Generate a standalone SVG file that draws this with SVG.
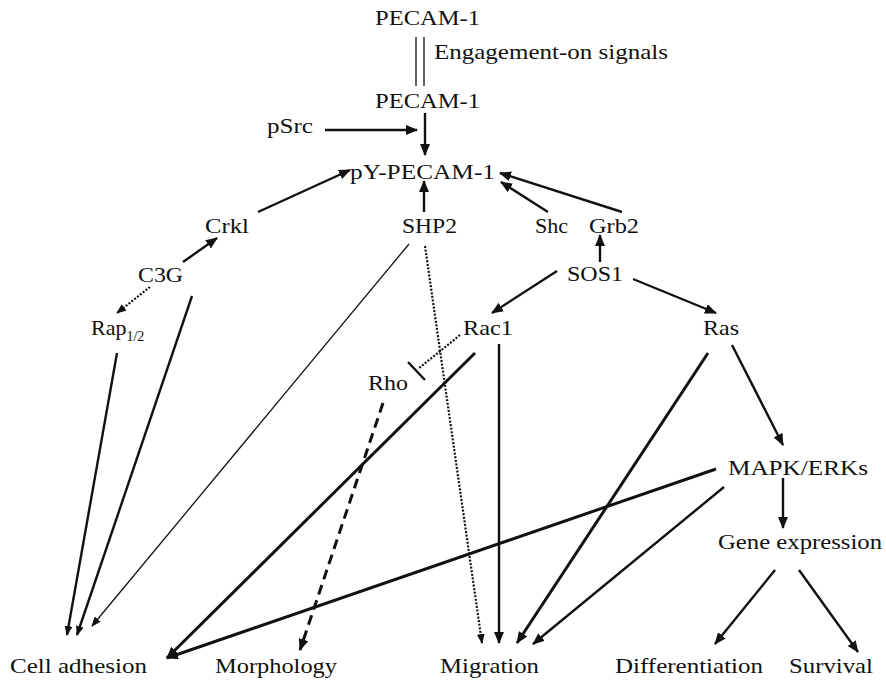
<svg xmlns="http://www.w3.org/2000/svg" width="886" height="683" viewBox="0 0 886 683">
<style>
text{font-family:"Liberation Serif","Times New Roman",serif;font-size:22px;fill:#111}
.c{fill:none;stroke:#111;stroke-width:2.4}
.thick{stroke-width:3}
.thin{stroke-width:1.3}
.dot{stroke-dasharray:2 1.6;stroke-width:2.2}
.dash{stroke-dasharray:10 6;stroke-width:3}
</style>
<defs>
<marker id="a" markerUnits="userSpaceOnUse" markerWidth="12" markerHeight="10" refX="11" refY="5" orient="auto">
<path d="M0,0 L12,5 L0,10 Z" fill="#111"/>
</marker>
<marker id="as" markerUnits="userSpaceOnUse" markerWidth="10" markerHeight="8" refX="9" refY="4" orient="auto">
<path d="M0,0 L10,4 L0,8 Z" fill="#111"/>
</marker>
</defs>
<rect width="886" height="683" fill="#fff"/>
<g id="connectors">
<line class="c thin" x1="416" y1="37" x2="416" y2="86"/>
<line class="c thin" x1="424" y1="37" x2="424" y2="86"/>
<line class="c" x1="325" y1="130" x2="417" y2="130" marker-end="url(#a)"/>
<line class="c" x1="425" y1="113" x2="425" y2="155" marker-end="url(#a)"/>
<line class="c" x1="258" y1="212" x2="350" y2="170" marker-end="url(#a)"/>
<line class="c" x1="424" y1="212" x2="424" y2="181" marker-end="url(#a)"/>
<line class="c" x1="548" y1="212" x2="501" y2="182" marker-end="url(#a)"/>
<line class="c" x1="622" y1="212" x2="500" y2="173" marker-end="url(#a)"/>
<line class="c" x1="183" y1="262" x2="217" y2="238" marker-end="url(#a)"/>
<line class="c dot" x1="150" y1="287" x2="117" y2="313" marker-end="url(#as)"/>
<line class="c" x1="117" y1="353" x2="67" y2="635" marker-end="url(#as)"/>
<line class="c" x1="192" y1="296" x2="77" y2="635" marker-end="url(#as)"/>
<line class="c thin" x1="409" y1="244" x2="92" y2="626" marker-end="url(#as)"/>
<line class="c dot" x1="425" y1="246" x2="482" y2="643" marker-end="url(#as)"/>
<line class="c" x1="600" y1="262" x2="600" y2="235" marker-end="url(#a)"/>
<line class="c" x1="557" y1="271" x2="492" y2="313" marker-end="url(#a)"/>
<line class="c" x1="633" y1="279" x2="716" y2="313" marker-end="url(#a)"/>
<line class="c dot" x1="460" y1="335" x2="418" y2="369"/>
<line class="c" x1="408" y1="362" x2="425" y2="380"/>
<line class="c dash" x1="383" y1="403" x2="300" y2="650" marker-end="url(#a)"/>
<line class="c thick" x1="475" y1="353" x2="167" y2="658" marker-end="url(#a)"/>
<line class="c" x1="499" y1="344" x2="499" y2="643" marker-end="url(#a)"/>
<line class="c thick" x1="708" y1="353" x2="517" y2="643" marker-end="url(#a)"/>
<line class="c" x1="732" y1="345" x2="783" y2="445" marker-end="url(#a)"/>
<line class="c thick" x1="716" y1="469" x2="167" y2="658" marker-end="url(#a)"/>
<line class="c" x1="724" y1="487" x2="533" y2="644" marker-end="url(#a)"/>
<line class="c" x1="783" y1="478" x2="783" y2="528" marker-end="url(#a)"/>
<line class="c" x1="775" y1="570" x2="715" y2="644" marker-end="url(#a)"/>
<line class="c" x1="799" y1="570" x2="858" y2="652" marker-end="url(#a)"/>
</g>
<g id="n-pecam-top"><text x="375" y="25" textLength="105" lengthAdjust="spacingAndGlyphs">PECAM-1</text></g>
<g id="n-engagement"><text x="434" y="59" textLength="234" lengthAdjust="spacingAndGlyphs">Engagement-on signals</text></g>
<g id="n-pecam"><text x="375" y="108" textLength="105" lengthAdjust="spacingAndGlyphs">PECAM-1</text></g>
<g id="n-psrc"><text x="267" y="133" textLength="46" lengthAdjust="spacingAndGlyphs">pSrc</text></g>
<g id="n-pypecam"><text x="350" y="179" textLength="145" lengthAdjust="spacingAndGlyphs">pY-PECAM-1</text></g>
<g id="n-crkl"><text x="205" y="233" textLength="44" lengthAdjust="spacingAndGlyphs">Crkl</text></g>
<g id="n-shp2"><text x="402" y="233" textLength="55" lengthAdjust="spacingAndGlyphs">SHP2</text></g>
<g id="n-shc"><text x="535" y="233" textLength="33" lengthAdjust="spacingAndGlyphs">Shc</text></g>
<g id="n-grb2"><text x="589" y="233" textLength="50" lengthAdjust="spacingAndGlyphs">Grb2</text></g>
<g id="n-c3g"><text x="138" y="282" textLength="45" lengthAdjust="spacingAndGlyphs">C3G</text></g>
<g id="n-sos1"><text x="567" y="281" textLength="56" lengthAdjust="spacingAndGlyphs">SOS1</text></g>
<g id="n-rap"><text x="91" y="335">Rap<tspan dy="6" style="font-size:14px">1/2</tspan></text></g>
<g id="n-rac1"><text x="463" y="335" textLength="50" lengthAdjust="spacingAndGlyphs">Rac1</text></g>
<g id="n-ras"><text x="703" y="335" textLength="36" lengthAdjust="spacingAndGlyphs">Ras</text></g>
<g id="n-rho"><text x="368" y="390" textLength="40" lengthAdjust="spacingAndGlyphs">Rho</text></g>
<g id="n-mapk"><text x="728" y="475" textLength="140" lengthAdjust="spacingAndGlyphs">MAPK/ERKs</text></g>
<g id="n-gene"><text x="718" y="549" textLength="164" lengthAdjust="spacingAndGlyphs">Gene expression</text></g>
<g id="n-adhesion"><text x="10" y="673" textLength="137" lengthAdjust="spacingAndGlyphs">Cell adhesion</text></g>
<g id="n-morphology"><text x="215" y="673" textLength="122" lengthAdjust="spacingAndGlyphs">Morphology</text></g>
<g id="n-migration"><text x="440" y="673" textLength="99" lengthAdjust="spacingAndGlyphs">Migration</text></g>
<g id="n-differentiation"><text x="615" y="673" textLength="148" lengthAdjust="spacingAndGlyphs">Differentiation</text></g>
<g id="n-survival"><text x="789" y="673" textLength="84" lengthAdjust="spacingAndGlyphs">Survival</text></g>
</svg>
